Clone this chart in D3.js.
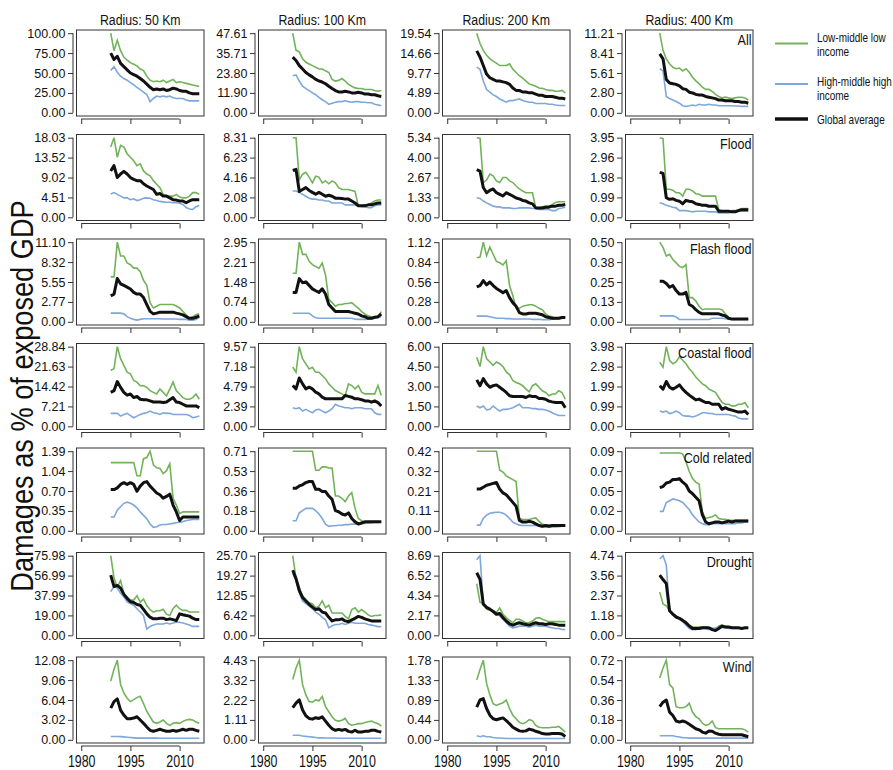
<!DOCTYPE html>
<html>
<head>
<meta charset="utf-8">
<script src="https://cdn.jsdelivr.net/npm/d3@7"></script>
<style>
  body { margin: 0; background: #fff; }
  svg { display: block; }
  text { font-family: "Liberation Sans", Arial, Helvetica, sans-serif; fill: #111; }
</style>
</head>
<body>
<svg id="chart" width="893" height="770"></svg>
<script>
// ---- data ----
const years = [1989, 1990, 1991, 1992, 1993, 1994, 1995, 1996, 1997, 1998, 1999, 2000, 2001, 2002,
               2003, 2004, 2005, 2006, 2007, 2008, 2009, 2010, 2011, 2012, 2013, 2014, 2015, 2016];
const radii = ["Radius: 50 Km", "Radius: 100 Km", "Radius: 200 Km", "Radius: 400 Km"];
const hazards = ["All", "Flood", "Flash flood", "Coastal flood", "Cold related", "Drought", "Wind"];
const xTickYears = [1980, 1995, 2010];
const legendLabels = [["Low-middle low", "income"], ["High-middle high", "income"], ["Global average"]];

// one inner array per radius: 50, 100, 200, 400 km
const allLow = [
  [100, 78, 91, 78, 70, 66, 63, 61, 59, 55, 53, 46, 41, 39, 40, 39, 41, 38, 40, 42, 38, 39, 38, 37, 36, 35, 34, 33],
  [47.61, 37.4, 36.4, 32.3, 30.2, 29.2, 28.2, 27.2, 26.2, 26.2, 25.1, 24.1, 20.0, 19.0, 19.4, 20.5, 19.0, 17.0, 15.9, 14.9, 14.5, 14.5, 13.9, 13.9, 13.9, 13.3, 12.9, 13.3],
  [19.54, 17.0, 15.3, 14.1, 13.3, 12.7, 12.2, 11.6, 11.6, 11.6, 12.0, 10.7, 9.9, 9.1, 8.5, 7.8, 7.1, 6.8, 6.5, 6.1, 6.0, 5.7, 5.5, 5.5, 5.3, 5.3, 5.5, 4.9],
  [11.21, 8.8, 7.6, 6.9, 6.4, 6.2, 6.3, 5.9, 6.2, 5.7, 5.0, 4.5, 4.1, 3.6, 3.3, 3.3, 3.0, 2.6, 2.3, 2.1, 2.2, 2.1, 2.0, 2.1, 2.2, 2.2, 2.1, 1.8]
];
const allHigh = [
  [53, 58, 51, 46, 43, 41, 38, 35, 32, 29, 26, 23, 14, 18, 21, 20, 21, 20, 21, 19, 18, 18, 18, 16, 15, 15, 15, 15],
  [22.1, 22.7, 19.0, 15.9, 14.5, 13.3, 11.9, 10.8, 9.2, 7.8, 6.7, 5.1, 5.7, 6.3, 6.7, 6.7, 7.2, 6.7, 6.3, 6.7, 6.7, 6.3, 6.3, 6.0, 6.0, 5.1, 4.7, 4.3],
  [11.2, 10.7, 7.8, 5.7, 5.1, 4.4, 4.0, 3.4, 3.0, 2.6, 3.0, 3.0, 3.2, 3.4, 3.0, 2.8, 2.6, 2.6, 2.3, 2.3, 2.3, 2.3, 2.1, 2.1, 1.9, 1.8, 1.8, 1.8],
  [6.2, 5.9, 2.3, 2.0, 1.8, 1.6, 1.35, 1.0, 0.9, 1.0, 1.1, 1.0, 1.2, 1.1, 1.1, 1.2, 1.1, 1.1, 1.0, 1.0, 1.0, 1.0, 1.0, 0.95, 0.95, 0.9, 0.9, 0.9]
];
const allAvg = [
  [75, 67, 71, 62, 58, 54, 50, 48, 46, 43, 40, 36, 32, 29, 30, 29, 30, 28, 29, 31, 30, 28, 27, 27, 25, 24, 24, 24],
  [33.3, 31.3, 28.2, 26.2, 24.1, 22.7, 21.5, 20.0, 19.0, 18.4, 17.4, 15.9, 14.5, 13.3, 12.5, 12.5, 12.9, 12.5, 11.9, 11.9, 12.3, 11.9, 11.2, 11.2, 10.8, 10.8, 10.2, 9.8],
  [15.2, 13.7, 11.6, 9.5, 8.6, 8.2, 7.8, 7.8, 7.6, 7.4, 7.0, 6.1, 5.5, 5.5, 5.1, 5.1, 4.9, 4.9, 4.6, 4.3, 4.3, 4.0, 4.0, 4.0, 3.8, 3.6, 3.6, 3.4],
  [8.3, 7.6, 4.7, 4.2, 4.1, 4.0, 3.8, 3.4, 3.3, 2.9, 2.8, 2.6, 2.5, 2.5, 2.3, 2.2, 2.1, 2.0, 1.8, 1.8, 1.7, 1.7, 1.7, 1.6, 1.6, 1.5, 1.5, 1.35]
];

const floodLow = [
  [15.9, 18.03, 13.6, 16.3, 15.9, 14.4, 13.6, 12.8, 11.7, 12.1, 10.5, 9.8, 9.4, 8.3, 7.5, 6.7, 5.2, 4.8, 4.8, 4.8, 5.2, 4.6, 4.4, 4.4, 4.8, 5.6, 5.6, 5.2],
  [8.31, 8.31, 3.9, 4.5, 4.7, 4.2, 3.6, 4.3, 4.2, 3.6, 3.8, 3.5, 3.8, 3.6, 3.1, 2.9, 2.9, 2.9, 2.8, 2.7, 1.2, 1.2, 1.3, 1.3, 1.5, 1.7, 1.8, 1.8],
  [5.34, 5.3, 2.33, 2.5, 2.9, 2.78, 2.44, 2.33, 2.67, 2.67, 2.44, 2.33, 2.1, 1.9, 1.76, 1.65, 1.65, 1.65, 0.63, 0.63, 0.7, 0.75, 0.75, 0.85, 1.0, 1.04, 1.04, 1.04],
  [3.95, 3.9, 1.39, 1.39, 1.34, 1.22, 1.22, 1.05, 1.39, 1.39, 1.31, 1.17, 1.14, 1.05, 1.05, 1.05, 1.05, 1.05, 0.38, 0.33, 0.3, 0.3, 0.33, 0.33, 0.38, 0.44, 0.44, 0.44]
];
const floodHigh = [
  [5.3, 5.6, 5.2, 4.8, 4.4, 4.4, 4.0, 4.2, 3.8, 4.0, 4.3, 4.4, 4.3, 4.0, 3.8, 3.6, 3.5, 3.4, 3.4, 3.3, 3.3, 3.2, 2.9, 2.2, 1.9, 1.8, 2.4, 2.7],
  [2.75, 2.75, 2.6, 2.4, 2.2, 2.0, 1.9, 1.9, 1.8, 1.8, 1.7, 1.7, 1.5, 1.5, 1.5, 1.5, 1.3, 1.3, 1.3, 1.3, 1.2, 1.1, 1.1, 1.0, 1.0, 1.2, 1.3, 1.3],
  [1.31, 1.27, 1.09, 0.97, 0.86, 0.75, 0.7, 0.7, 0.63, 0.63, 0.63, 0.59, 0.59, 0.63, 0.63, 0.63, 0.63, 0.59, 0.59, 0.52, 0.52, 0.52, 0.52, 0.45, 0.45, 0.59, 0.63, 0.68],
  [0.72, 0.67, 0.6, 0.55, 0.5, 0.47, 0.33, 0.33, 0.33, 0.3, 0.27, 0.3, 0.3, 0.3, 0.3, 0.27, 0.27, 0.27, 0.22, 0.22, 0.22, 0.22, 0.27, 0.27, 0.3, 0.3, 0.3, 0.3]
];
const floodAvg = [
  [10.5, 11.7, 9.0, 9.8, 10.4, 9.8, 9.0, 8.6, 8.3, 8.3, 7.6, 7.1, 6.7, 6.3, 5.2, 5.4, 4.8, 4.8, 4.4, 4.0, 3.9, 3.7, 3.7, 3.3, 3.7, 4.0, 4.0, 4.0],
  [4.9, 5.0, 2.7, 2.9, 3.1, 2.8, 2.6, 2.4, 2.6, 2.4, 2.2, 2.3, 2.2, 2.0, 2.0, 1.96, 1.9, 1.9, 1.7, 1.5, 1.2, 1.2, 1.2, 1.3, 1.3, 1.4, 1.5, 1.5],
  [3.2, 3.1, 2.0, 1.65, 1.8, 1.9, 1.65, 1.54, 1.43, 1.65, 1.54, 1.43, 1.3, 1.24, 1.13, 1.09, 0.97, 0.9, 0.63, 0.63, 0.63, 0.68, 0.68, 0.75, 0.75, 0.81, 0.81, 0.86],
  [2.23, 2.18, 0.97, 0.89, 0.92, 0.84, 0.8, 0.67, 0.84, 0.8, 0.77, 0.67, 0.64, 0.6, 0.6, 0.55, 0.55, 0.55, 0.3, 0.3, 0.3, 0.3, 0.27, 0.27, 0.33, 0.38, 0.38, 0.38]
];

const flashLow = [
  [6.27, 6.27, 11.10, 9.17, 9.17, 8.2, 7.96, 7.48, 7.48, 7.0, 5.79, 5.07, 2.65, 1.93, 2.17, 2.41, 2.41, 2.41, 2.41, 2.41, 2.2, 1.93, 1.45, 0.97, 0.48, 0.72, 0.97, 1.11],
  [1.8, 1.8, 2.95, 2.5, 2.5, 2.24, 2.12, 2.05, 1.99, 2.18, 1.73, 0.83, 0.71, 0.58, 0.64, 0.64, 0.68, 0.68, 0.71, 0.6, 0.51, 0.38, 0.29, 0.22, 0.19, 0.17, 0.19, 0.38],
  [0.9, 0.91, 1.12, 0.93, 1.05, 0.95, 0.85, 0.83, 0.8, 0.86, 0.51, 0.37, 0.19, 0.19, 0.22, 0.23, 0.24, 0.24, 0.22, 0.19, 0.17, 0.11, 0.08, 0.07, 0.05, 0.05, 0.06, 0.07],
  [0.50, 0.467, 0.413, 0.424, 0.391, 0.37, 0.348, 0.341, 0.359, 0.152, 0.152, 0.13, 0.098, 0.076, 0.08, 0.08, 0.08, 0.08, 0.08, 0.076, 0.05, 0.028, 0.017, 0.017, 0.017, 0.017, 0.017, 0.017]
];
const flashHigh = [
  [1.21, 1.21, 1.21, 1.21, 1.11, 0.72, 0.48, 0.34, 0.24, 0.34, 0.43, 0.43, 0.43, 0.43, 0.43, 0.43, 0.39, 0.39, 0.39, 0.39, 0.39, 0.34, 0.34, 0.34, 0.24, 0.24, 0.34, 0.63],
  [0.32, 0.32, 0.32, 0.32, 0.32, 0.32, 0.22, 0.15, 0.13, 0.13, 0.13, 0.13, 0.13, 0.13, 0.13, 0.13, 0.13, 0.13, 0.13, 0.1, 0.09, 0.09, 0.09, 0.1, 0.11, 0.13, 0.15, 0.19],
  [0.08, 0.08, 0.08, 0.08, 0.07, 0.06, 0.05, 0.05, 0.05, 0.045, 0.045, 0.04, 0.04, 0.04, 0.04, 0.04, 0.04, 0.035, 0.035, 0.035, 0.03, 0.03, 0.03, 0.035, 0.04, 0.045, 0.05, 0.06],
  [0.037, 0.037, 0.037, 0.037, 0.037, 0.03, 0.015, 0.015, 0.015, 0.015, 0.015, 0.015, 0.015, 0.015, 0.015, 0.015, 0.022, 0.022, 0.022, 0.022, 0.02, 0.017, 0.015, 0.015, 0.015, 0.015, 0.015, 0.015]
];
const flashAvg = [
  [3.62, 3.86, 6.03, 5.3, 5.07, 4.83, 4.58, 4.1, 3.86, 3.86, 3.38, 2.41, 1.45, 1.11, 1.21, 1.35, 1.35, 1.35, 1.35, 1.35, 1.21, 1.11, 0.97, 0.72, 0.48, 0.48, 0.63, 0.82],
  [1.09, 1.09, 1.6, 1.45, 1.48, 1.35, 1.22, 1.15, 1.09, 1.22, 1.03, 0.64, 0.51, 0.38, 0.38, 0.38, 0.38, 0.38, 0.35, 0.32, 0.29, 0.22, 0.19, 0.13, 0.13, 0.17, 0.19, 0.29],
  [0.49, 0.51, 0.58, 0.52, 0.56, 0.51, 0.47, 0.44, 0.41, 0.44, 0.34, 0.27, 0.22, 0.13, 0.11, 0.11, 0.12, 0.12, 0.12, 0.11, 0.1, 0.07, 0.06, 0.05, 0.05, 0.05, 0.06, 0.06],
  [0.254, 0.254, 0.24, 0.217, 0.228, 0.196, 0.174, 0.174, 0.185, 0.109, 0.098, 0.076, 0.059, 0.05, 0.05, 0.05, 0.05, 0.05, 0.05, 0.043, 0.037, 0.022, 0.017, 0.017, 0.017, 0.017, 0.017, 0.017]
];

const coastalLow = [
  [20.2, 20.9, 28.84, 24.5, 22.1, 19.6, 19.0, 16.6, 16.0, 14.7, 14.7, 14.1, 12.9, 12.3, 11.7, 13.5, 12.3, 11.0, 13.5, 16.0, 12.9, 11.7, 10.4, 9.8, 9.8, 10.4, 11.7, 9.8],
  [7.13, 6.5, 9.57, 8.1, 7.5, 6.9, 7.1, 6.5, 6.5, 6.1, 5.7, 5.1, 4.7, 4.3, 4.1, 3.9, 3.7, 5.1, 4.9, 4.5, 4.9, 4.1, 3.9, 3.9, 3.9, 3.9, 4.9, 3.7],
  [5.2, 4.5, 6.0, 5.1, 4.85, 4.6, 4.85, 4.72, 4.5, 4.1, 3.9, 3.45, 3.3, 3.2, 3.06, 2.8, 2.6, 3.06, 3.2, 2.94, 2.68, 2.55, 2.3, 2.43, 2.43, 2.68, 2.55, 2.04],
  [3.2, 2.96, 3.98, 3.3, 3.13, 3.22, 3.47, 3.3, 3.13, 2.88, 2.7, 2.46, 2.29, 2.12, 2.03, 1.86, 1.78, 1.7, 1.44, 1.19, 1.1, 1.1, 1.02, 1.02, 1.1, 1.1, 1.19, 0.93]
];
const coastalHigh = [
  [4.7, 4.7, 4.7, 3.7, 4.3, 4.7, 3.9, 3.1, 3.7, 4.3, 4.7, 4.9, 5.5, 4.9, 4.7, 4.3, 4.9, 4.7, 4.7, 4.3, 4.3, 4.3, 4.3, 4.3, 3.9, 3.1, 3.4, 3.7],
  [2.24, 2.12, 2.24, 1.83, 2.04, 1.83, 1.63, 1.95, 2.04, 1.83, 1.63, 1.83, 2.12, 2.65, 2.44, 2.36, 2.24, 2.24, 2.12, 2.24, 2.24, 2.24, 2.12, 2.12, 2.12, 1.63, 1.43, 1.43],
  [1.53, 1.4, 1.53, 1.23, 1.28, 1.53, 1.33, 1.15, 1.28, 1.28, 1.33, 1.4, 1.53, 1.66, 1.4, 1.4, 1.4, 1.33, 1.33, 1.28, 1.28, 1.23, 1.15, 1.02, 0.9, 0.82, 0.82, 0.82],
  [0.76, 0.71, 0.76, 0.64, 0.68, 0.76, 0.68, 0.54, 0.51, 0.51, 0.47, 0.51, 0.59, 0.68, 0.68, 0.64, 0.64, 0.59, 0.59, 0.59, 0.59, 0.59, 0.54, 0.51, 0.42, 0.37, 0.37, 0.37]
];
const coastalAvg = [
  [12.3, 12.9, 16.2, 14.1, 12.3, 11.3, 11.7, 10.4, 10.8, 9.8, 9.6, 9.6, 9.2, 8.8, 8.8, 8.8, 8.6, 8.8, 9.6, 10.4, 8.8, 8.6, 8.0, 7.4, 7.4, 7.4, 7.4, 6.7],
  [4.9, 4.5, 5.8, 5.1, 4.5, 4.7, 4.5, 4.1, 3.9, 3.5, 3.3, 3.3, 3.3, 3.3, 3.3, 3.3, 3.7, 3.6, 3.5, 3.3, 3.3, 3.2, 3.05, 3.05, 2.9, 3.05, 2.85, 2.44],
  [3.5, 3.06, 3.6, 3.2, 2.94, 3.06, 3.12, 2.94, 2.76, 2.55, 2.3, 2.25, 2.25, 2.25, 2.25, 2.17, 2.3, 2.25, 2.25, 2.1, 2.1, 2.04, 1.9, 1.84, 1.79, 1.79, 1.79, 1.4],
  [2.03, 1.86, 2.24, 1.95, 1.86, 1.95, 2.07, 1.86, 1.7, 1.56, 1.44, 1.32, 1.36, 1.27, 1.19, 1.19, 1.1, 1.1, 1.1, 0.85, 0.93, 0.85, 0.81, 0.76, 0.71, 0.71, 0.76, 0.59]
];

const coldLow = [
  [1.19, 1.19, 1.19, 1.19, 1.19, 1.19, 1.19, 1.19, 0.96, 0.96, 1.26, 1.28, 1.39, 1.15, 1.1, 1.09, 1.0, 1.05, 1.17, 0.57, 0.45, 0.3, 0.33, 0.33, 0.33, 0.33, 0.33, 0.33],
  [0.71, 0.71, 0.71, 0.71, 0.71, 0.71, 0.71, 0.54, 0.54, 0.57, 0.57, 0.56, 0.56, 0.31, 0.31, 0.29, 0.26, 0.31, 0.34, 0.2, 0.11, 0.09, 0.08, 0.08, 0.08, 0.08, 0.08, 0.08],
  [0.42, 0.42, 0.42, 0.42, 0.42, 0.42, 0.42, 0.32, 0.31, 0.29, 0.28, 0.27, 0.26, 0.065, 0.06, 0.06, 0.06, 0.065, 0.068, 0.05, 0.035, 0.03, 0.03, 0.03, 0.03, 0.03, 0.03, 0.03],
  [0.088, 0.088, 0.088, 0.088, 0.088, 0.088, 0.088, 0.087, 0.078, 0.067, 0.059, 0.055, 0.053, 0.021, 0.014, 0.015, 0.016, 0.018, 0.014, 0.013, 0.013, 0.012, 0.012, 0.012, 0.012, 0.012, 0.012, 0.012]
];
const coldHigh = [
  [0.24, 0.24, 0.36, 0.42, 0.48, 0.5, 0.48, 0.45, 0.4, 0.33, 0.27, 0.21, 0.12, 0.06, 0.07, 0.1, 0.11, 0.11, 0.12, 0.13, 0.14, 0.15, 0.16, 0.18, 0.19, 0.2, 0.2, 0.2],
  [0.09, 0.09, 0.16, 0.18, 0.2, 0.2, 0.2, 0.18, 0.15, 0.11, 0.06, 0.04, 0.045, 0.045, 0.05, 0.05, 0.055, 0.055, 0.06, 0.06, 0.06, 0.065, 0.065, 0.07, 0.07, 0.075, 0.075, 0.08],
  [0.03, 0.03, 0.065, 0.083, 0.093, 0.096, 0.098, 0.098, 0.093, 0.083, 0.065, 0.046, 0.037, 0.03, 0.028, 0.028, 0.028, 0.028, 0.028, 0.026, 0.022, 0.02, 0.02, 0.02, 0.02, 0.022, 0.024, 0.024],
  [0.022, 0.022, 0.032, 0.034, 0.036, 0.035, 0.034, 0.032, 0.028, 0.024, 0.018, 0.014, 0.01, 0.008, 0.007, 0.007, 0.008, 0.008, 0.008, 0.008, 0.008, 0.008, 0.008, 0.008, 0.009, 0.009, 0.01, 0.01]
];
const coldAvg = [
  [0.72, 0.72, 0.75, 0.81, 0.84, 0.81, 0.84, 0.81, 0.69, 0.78, 0.84, 0.86, 0.78, 0.72, 0.66, 0.63, 0.57, 0.6, 0.64, 0.45, 0.33, 0.18, 0.24, 0.24, 0.24, 0.24, 0.24, 0.24],
  [0.38, 0.38, 0.4, 0.41, 0.43, 0.44, 0.44, 0.37, 0.37, 0.35, 0.35, 0.31, 0.28, 0.18, 0.17, 0.15, 0.14, 0.16, 0.11, 0.08, 0.06, 0.07, 0.08, 0.08, 0.08, 0.08, 0.08, 0.08],
  [0.22, 0.22, 0.23, 0.24, 0.245, 0.25, 0.255, 0.22, 0.2, 0.19, 0.17, 0.15, 0.13, 0.055, 0.046, 0.046, 0.05, 0.046, 0.037, 0.028, 0.024, 0.028, 0.024, 0.028, 0.028, 0.028, 0.028, 0.028],
  [0.049, 0.05, 0.054, 0.055, 0.058, 0.058, 0.059, 0.055, 0.052, 0.045, 0.042, 0.038, 0.034, 0.018, 0.01, 0.008, 0.009, 0.01, 0.01, 0.009, 0.01, 0.011, 0.01, 0.011, 0.011, 0.011, 0.011, 0.011]
];

const droughtLow = [
  [75.98, 54.8, 45.7, 52.2, 40.1, 36.8, 33.6, 33.6, 37.8, 31.6, 34.6, 28.4, 24.5, 22.2, 23.5, 23.5, 24.8, 20.2, 18.9, 25.4, 28.7, 25.4, 23.8, 23.8, 22.2, 22.2, 22.2, 22.2],
  [25.7, 18.3, 15.5, 12.7, 11.6, 10.5, 10.2, 8.9, 9.4, 11.1, 8.9, 9.7, 7.2, 7.2, 7.2, 7.2, 6.1, 5.3, 8.3, 8.9, 7.5, 8.3, 7.5, 6.6, 6.1, 6.4, 6.4, 6.6],
  [5.65, 3.6, 3.5, 2.86, 2.75, 2.67, 2.49, 2.97, 2.3, 1.93, 1.63, 1.37, 1.75, 1.75, 1.56, 1.37, 1.37, 1.56, 1.86, 1.93, 1.75, 1.63, 1.49, 1.49, 1.49, 1.49, 1.49, 1.49],
  [2.57, 1.86, 1.76, 1.46, 1.26, 1.15, 1.01, 0.89, 0.81, 0.61, 0.49, 0.49, 0.49, 0.49, 0.49, 0.45, 0.41, 0.34, 0.55, 0.61, 0.55, 0.49, 0.45, 0.45, 0.45, 0.45, 0.45, 0.45]
];
const droughtHigh = [
  [41.7, 46.6, 45, 40.1, 36.8, 32, 30.3, 28.7, 25.4, 22.2, 18.9, 5.9, 8.5, 9.8, 10.8, 10.8, 10.8, 11.7, 10.8, 11.7, 12.4, 12.4, 11.7, 10.8, 9.8, 8.5, 8.5, 8.5],
  [20, 17.7, 13.8, 11.1, 10.2, 9.4, 8.6, 7.5, 6.8, 5.8, 5, 2.4, 3.1, 3.5, 3.5, 3.9, 3.5, 3.9, 4.2, 3.9, 3.9, 3.9, 3.9, 3.5, 3.3, 3.1, 2.8, 2.8],
  [8.25, 8.69, 3.4, 3.1, 2.86, 2.67, 2.3, 2.12, 1.75, 1.37, 1.0, 0.82, 0.89, 1.0, 1.0, 1.0, 0.89, 1.0, 1.11, 1.0, 1.0, 1.0, 0.89, 0.82, 0.74, 0.74, 0.63, 0.63],
  [4.54, 4.74, 4.19, 1.46, 1.22, 1.09, 0.95, 0.81, 0.61, 0.41, 0.34, 0.34, 0.41, 0.41, 0.41, 0.34, 0.41, 0.45, 0.49, 0.45, 0.45, 0.41, 0.41, 0.41, 0.41, 0.41, 0.41, 0.41]
];
const droughtAvg = [
  [57.4, 46.6, 47.6, 45, 39.1, 35.2, 32, 31.3, 29.4, 28.7, 24.8, 20.5, 17.3, 15.7, 15.7, 16.3, 16.3, 15, 15.7, 15, 14, 20.5, 19.6, 18.9, 18.3, 16.3, 15, 15],
  [21, 18.3, 14.4, 12.2, 11.1, 10, 9.1, 8.3, 8.6, 7.5, 7.2, 5.8, 4.65, 5, 5, 5.3, 4.65, 4.4, 5, 5.5, 6.1, 5.8, 5.3, 5, 4.65, 4.65, 4.65, 4.65],
  [6.83, 6.1, 3.4, 3.05, 2.86, 2.6, 2.3, 2.38, 1.93, 1.56, 1.26, 1.11, 1.26, 1.37, 1.26, 1.19, 1.11, 1.26, 1.37, 1.26, 1.26, 1.19, 1.26, 1.26, 1.19, 1.11, 1.11, 1.11],
  [3.59, 3.32, 3.08, 1.46, 1.26, 1.09, 1.01, 0.89, 0.75, 0.55, 0.41, 0.41, 0.41, 0.45, 0.45, 0.45, 0.34, 0.28, 0.41, 0.55, 0.49, 0.49, 0.45, 0.45, 0.45, 0.41, 0.45, 0.45]
];

const windLow = [
  [8.9, 10.7, 12.08, 8.4, 7.1, 6.3, 5.8, 6.1, 6.4, 6.6, 5.5, 4.3, 3.5, 2.7, 2.5, 2.7, 3.0, 2.5, 2.2, 2.5, 2.6, 2.5, 2.8, 3.0, 3.1, 3.0, 2.7, 2.5],
  [3.36, 4.0, 4.43, 3.07, 2.5, 2.13, 2.09, 2.22, 2.17, 2.41, 1.85, 1.56, 1.28, 1.09, 1.04, 1.09, 1.19, 0.9, 0.81, 0.85, 0.9, 0.9, 0.96, 1.0, 1.04, 0.96, 0.9, 0.77],
  [1.34, 1.57, 1.78, 1.26, 1.0, 0.81, 0.77, 0.8, 0.83, 0.89, 0.7, 0.55, 0.47, 0.39, 0.36, 0.39, 0.45, 0.43, 0.32, 0.28, 0.27, 0.27, 0.27, 0.28, 0.28, 0.3, 0.24, 0.17],
  [0.56, 0.65, 0.72, 0.5, 0.47, 0.3, 0.29, 0.29, 0.3, 0.33, 0.25, 0.21, 0.19, 0.15, 0.13, 0.14, 0.17, 0.11, 0.1, 0.1, 0.1, 0.1, 0.1, 0.1, 0.1, 0.1, 0.09, 0.07]
];
const windHigh = [
  [0.51, 0.51, 0.51, 0.49, 0.45, 0.4, 0.35, 0.3, 0.26, 0.26, 0.26, 0.26, 0.26, 0.26, 0.26, 0.24, 0.24, 0.24, 0.24, 0.24, 0.24, 0.24, 0.24, 0.24, 0.24, 0.24, 0.24, 0.24],
  [0.25, 0.25, 0.25, 0.21, 0.19, 0.17, 0.15, 0.13, 0.11, 0.11, 0.1, 0.1, 0.1, 0.1, 0.09, 0.09, 0.09, 0.09, 0.09, 0.09, 0.09, 0.09, 0.09, 0.09, 0.09, 0.09, 0.09, 0.09],
  [0.09, 0.07, 0.09, 0.07, 0.07, 0.05, 0.04, 0.04, 0.035, 0.03, 0.03, 0.03, 0.03, 0.03, 0.03, 0.03, 0.03, 0.03, 0.03, 0.03, 0.03, 0.03, 0.03, 0.03, 0.03, 0.03, 0.03, 0.03],
  [0.037, 0.037, 0.037, 0.037, 0.037, 0.03, 0.025, 0.02, 0.018, 0.015, 0.015, 0.015, 0.015, 0.015, 0.015, 0.015, 0.015, 0.015, 0.015, 0.015, 0.015, 0.015, 0.015, 0.015, 0.015, 0.015, 0.015, 0.015]
];
const windAvg = [
  [4.8, 5.8, 6.2, 4.5, 3.75, 3.2, 3.2, 3.3, 3.5, 3.0, 2.5, 1.95, 1.44, 1.29, 1.44, 1.6, 1.44, 1.29, 1.29, 1.44, 1.29, 1.44, 1.6, 1.44, 1.6, 1.6, 1.44, 1.29],
  [1.79, 2.04, 2.22, 1.66, 1.34, 1.19, 1.15, 1.23, 1.19, 1.28, 1.04, 0.81, 0.62, 0.53, 0.58, 0.53, 0.58, 0.47, 0.43, 0.53, 0.43, 0.43, 0.47, 0.47, 0.53, 0.53, 0.47, 0.43],
  [0.73, 0.89, 0.92, 0.7, 0.55, 0.47, 0.45, 0.47, 0.49, 0.43, 0.36, 0.28, 0.24, 0.2, 0.19, 0.2, 0.24, 0.22, 0.19, 0.17, 0.14, 0.13, 0.13, 0.14, 0.14, 0.14, 0.13, 0.07],
  [0.3, 0.34, 0.36, 0.25, 0.22, 0.17, 0.16, 0.17, 0.16, 0.14, 0.12, 0.1, 0.09, 0.07, 0.06, 0.08, 0.077, 0.06, 0.05, 0.046, 0.046, 0.046, 0.046, 0.046, 0.046, 0.046, 0.037, 0.028]
];

// y tick labels, bottom to top, one set per radius
const allTicks = [["0.00", "25.00", "50.00", "75.00", "100.00"], ["0.00", "11.90", "23.80", "35.71", "47.61"], ["0.00", "4.89", "9.77", "14.66", "19.54"], ["0.00", "2.80", "5.61", "8.41", "11.21"]];
const floodTicks = [["0.00", "4.51", "9.02", "13.52", "18.03"], ["0.00", "2.08", "4.16", "6.23", "8.31"], ["0.00", "1.33", "2.67", "4.00", "5.34"], ["0.00", "0.99", "1.98", "2.96", "3.95"]];
const flashTicks = [["0.00", "2.77", "5.55", "8.32", "11.10"], ["0.00", "0.74", "1.48", "2.21", "2.95"], ["0.00", "0.28", "0.56", "0.84", "1.12"], ["0.00", "0.13", "0.25", "0.38", "0.50"]];
const coastalTicks = [["0.00", "7.21", "14.42", "21.63", "28.84"], ["0.00", "2.39", "4.79", "7.18", "9.57"], ["0.00", "1.50", "3.00", "4.50", "6.00"], ["0.00", "0.99", "1.99", "2.98", "3.98"]];
const coldTicks = [["0.00", "0.35", "0.70", "1.04", "1.39"], ["0.00", "0.18", "0.36", "0.53", "0.71"], ["0.00", "0.11", "0.21", "0.32", "0.42"], ["0.00", "0.02", "0.05", "0.07", "0.09"]];
const droughtTicks = [["0.00", "19.00", "37.99", "56.99", "75.98"], ["0.00", "6.42", "12.85", "19.27", "25.70"], ["0.00", "2.17", "4.34", "6.52", "8.69"], ["0.00", "1.18", "2.37", "3.56", "4.74"]];
const windTicks = [["0.00", "3.02", "6.04", "9.06", "12.08"], ["0.00", "1.11", "2.22", "3.32", "4.43"], ["0.00", "0.44", "0.89", "1.33", "1.78"], ["0.00", "0.18", "0.36", "0.54", "0.72"]];

// rows follow the hazards order
const lowRows = [allLow, floodLow, flashLow, coastalLow, coldLow, droughtLow, windLow];
const highRows = [allHigh, floodHigh, flashHigh, coastalHigh, coldHigh, droughtHigh, windHigh];
const avgRows = [allAvg, floodAvg, flashAvg, coastalAvg, coldAvg, droughtAvg, windAvg];
const tickRows = [allTicks, floodTicks, flashTicks, coastalTicks, coldTicks, droughtTicks, windTicks];

// ---- layout ----
const colLeft = [76.5, 258.5, 442.5, 625.5];
const rowTop = [30, 134.5, 239, 343.5, 448, 552.5, 657];
const boxW = 127.5, boxH = 86;
const green = "#72b35a", blue = "#7ea7db", black = "#111";

const svg = d3.select("#chart");

// R-style 4% padding on both axes
const x = d3.scaleLinear()
    .domain([1980 - 0.04 * 36, 2016 + 0.04 * 36])
    .range([0, boxW]);

hazards.forEach((hz, r) => {
    radii.forEach((rad, c) => {
        const labels = tickRows[r][c];
        const top = +labels[4];
        const y = d3.scaleLinear()
            .domain([-0.04 * top, top * 1.04])
            .range([boxH, 0]);

        const g = svg.append("g")
            .attr("transform", `translate(${colLeft[c]},${rowTop[r]})`);

        // y axis, offset a little left of the box
        const tickVals = [0, top / 4, top / 2, top * 3 / 4, top];
        const yAxis = g.append("g")
            .attr("transform", "translate(-3.5,0)")
            .call(d3.axisLeft(y).tickValues(tickVals)
                .tickFormat((d, i) => labels[i])
                .tickSize(5).tickPadding(2.5));
        yAxis.select(".domain").remove();
        yAxis.append("line")
            .attr("y1", y(0)).attr("y2", y(top))
            .attr("stroke", "#333");
        yAxis.selectAll(".tick line").attr("stroke", "#333");
        yAxis.selectAll("text")
            .attr("font-size", 12.5)
            .attr("font-family", "Liberation Sans, Arial, sans-serif")
            .attr("fill", "#111");

        // x axis under the box, labels only on the last row
        const xAxis = g.append("g")
            .attr("transform", `translate(0,${boxH + 3})`)
            .call(d3.axisBottom(x).tickValues(xTickYears)
                .tickFormat(d => r === hazards.length - 1 ? d : "")
                .tickSize(5).tickPadding(3.5));
        xAxis.select(".domain").remove();
        xAxis.append("line")
            .attr("x1", x(1980)).attr("x2", x(2010))
            .attr("stroke", "#333");
        xAxis.selectAll(".tick line").attr("stroke", "#333");
        xAxis.selectAll("text")
            .attr("font-size", 17)
            .attr("font-family", "Liberation Sans, Arial, sans-serif")
            .attr("fill", "#111")
            .attr("transform", "scale(0.73,1)");

        // series
        const line = d3.line()
            .x((d, i) => x(years[i]))
            .y(d => y(d));

        g.append("path").datum(lowRows[r][c])
            .attr("d", line).attr("fill", "none")
            .attr("stroke", green).attr("stroke-width", 1.6);
        g.append("path").datum(highRows[r][c])
            .attr("d", line).attr("fill", "none")
            .attr("stroke", blue).attr("stroke-width", 1.6);
        g.append("path").datum(avgRows[r][c])
            .attr("d", line).attr("fill", "none")
            .attr("stroke", black).attr("stroke-width", 3)
            .attr("stroke-linejoin", "round");

        // plot box
        g.append("rect")
            .attr("width", boxW).attr("height", boxH)
            .attr("fill", "none").attr("stroke", "#333").attr("stroke-width", 1);

        // hazard name only in the last column
        if (c === radii.length - 1) {
            g.append("text")
                .attr("transform", `translate(${boxW - 1.5},14.5) scale(0.9,1)`)
                .attr("text-anchor", "end")
                .attr("font-size", 14)
                .text(hz);
        }
    });
});

// column titles
radii.forEach((rad, c) => {
    svg.append("text")
        .attr("transform", `translate(${colLeft[c] + boxW / 2},25) scale(0.85,1)`)
        .attr("text-anchor", "middle")
        .attr("font-size", 14.5)
        .text(rad);
});

// y axis title
svg.append("text")
    .attr("transform", "translate(21,396) rotate(-90) scale(0.85,1)")
    .attr("text-anchor", "middle")
    .attr("dy", "0.36em")
    .attr("font-size", 32)
    .text("Damages as % of exposed GDP");

// legend
const legendY = [43.5, 84, 119];
const legendColors = [green, blue, black];
const legendWidths = [1.8, 1.8, 3.5];
const legendText = [[41.5, 55.5], [85.5, 99.5], [124]];
legendLabels.forEach((lines, i) => {
    svg.append("line")
        .attr("x1", 775).attr("x2", 808)
        .attr("y1", legendY[i]).attr("y2", legendY[i])
        .attr("stroke", legendColors[i]).attr("stroke-width", legendWidths[i]);
    lines.forEach((t, j) => {
        svg.append("text")
            .attr("transform", `translate(817,${legendText[i][j]}) scale(0.8,1)`)
            .attr("font-size", 12.5)
            .text(t);
    });
});
</script>
</body>
</html>
